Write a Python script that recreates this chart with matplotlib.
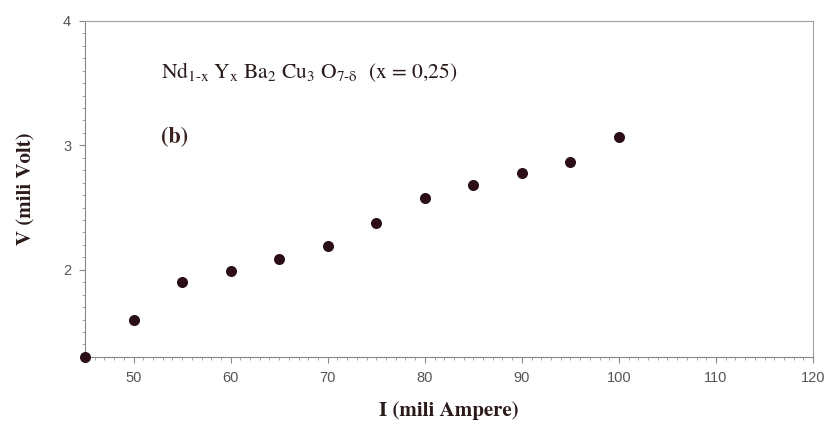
import matplotlib.pyplot as plt
from matplotlib.ticker import MultipleLocator, FixedLocator

current = [45, 50, 55, 60, 65, 70, 75, 80, 85, 90, 95, 100]
voltage = [1.3, 1.6, 1.9, 1.99, 2.09, 2.19, 2.38, 2.58, 2.68, 2.78, 2.87, 3.07]

x_ticks = [50, 60, 70, 80, 90, 100, 110, 120]
y_ticks = [2, 3, 4]

plt.rcParams["mathtext.fontset"] = "stix"

fig = plt.figure(figsize=(8.28, 4.45), dpi=100)
ax = fig.add_axes([0.1027, 0.198, 0.8793, 0.755])

ax.scatter(current, voltage, s=48, color="#2b0d17", zorder=3, clip_on=False)

ax.set_xlim(45, 120)
ax.set_ylim(1.3, 4)

ax.xaxis.set_major_locator(FixedLocator(x_ticks))
ax.yaxis.set_major_locator(FixedLocator(y_ticks))
ax.xaxis.set_minor_locator(MultipleLocator(1))
ax.yaxis.set_minor_locator(MultipleLocator(0.1))

for s in ax.spines.values():
    s.set_color("#a0a0a0")
    s.set_linewidth(0.8)
ax.spines["left"].set_color("#888888")
ax.spines["bottom"].set_color("#888888")

ax.tick_params(which="major", length=4, width=0.8, color="#888888",
               labelsize=10.5, labelcolor="#555555", pad=6)
ax.tick_params(which="minor", length=2.5, width=0.6, color="#999999")
for lab in ax.get_xticklabels() + ax.get_yticklabels():
    lab.set_family("Liberation Sans")

ax.set_xlabel("I (mili Ampere)", family="STIXGeneral", fontweight="bold",
              fontsize=15, color="#2a1a1a", labelpad=12)
ax.set_ylabel("V (mili Volt)", family="STIXGeneral", fontweight="bold",
              fontsize=15, color="#2a1a1a", labelpad=20)

ax.text(0.104, 0.83,
        r"$\mathrm{Nd_{1\text{-}x}\ Y_x\ Ba_2\ Cu_3\ O_{7\text{-}\delta}}$  (x = 0,25)",
        transform=ax.transAxes, family="STIXGeneral", fontsize=15.5,
        color="#2a1a1a")
ax.text(0.104, 0.635, "(b)", transform=ax.transAxes, family="STIXGeneral",
        fontweight="bold", fontsize=16, color="#3a2020")

fig.savefig("out.png", dpi=100)
